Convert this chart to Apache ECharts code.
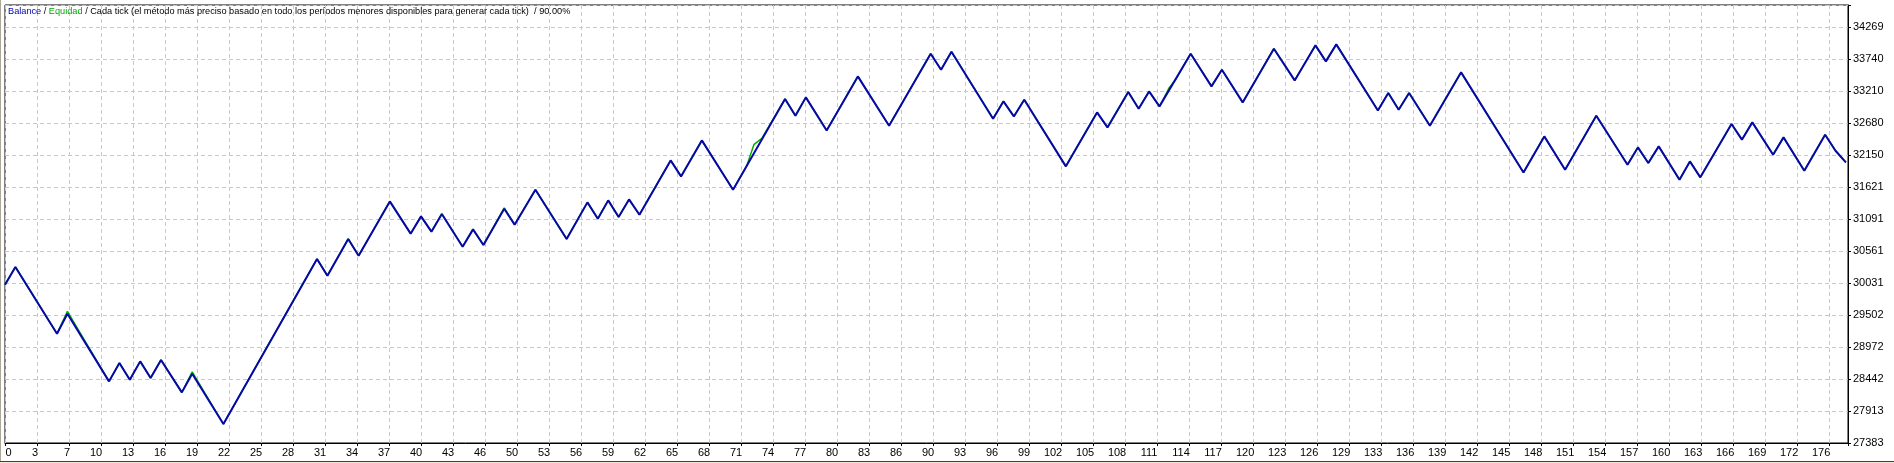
<!DOCTYPE html>
<html>
<head>
<meta charset="utf-8">
<script src="https://cdn.jsdelivr.net/npm/echarts/dist/echarts.min.js"></script>
<style>
html,body{margin:0;padding:0;background:#ffffff;}
#c{width:1894px;height:463px;}
</style>
</head>
<body>
<div id="c"></div>
<script>
// ---- data (turning points of the balance curve) ----
const tradeIdx = [0,1,5,6,10,11,12,13,14,15,17,18,21,30,31,33,34,37,39,40,41,42,44,45,46,48,49,51,54,56,57,58,59,60,61,64,65,67,70,75,76,77,79,82,85,89,90,91,95,96,97,98,102,105,106,108,109,110,111,114,116,117,119,122,124,126,127,128,132,133,134,135,137,140,146,148,150,153,156,157,158,159,161,162,163,166,167,168,170,171,173,175,176,177];
const balance = [30003,30296,29192,29523,28403,28707,28431,28734,28459,28757,28221,28530,27697,30429,30152,30760,30483,31382,30848,31134,30881,31174,30632,30919,30661,31261,30997,31576,30760,31366,31096,31399,31124,31415,31162,32061,31796,32392,31576,33077,32801,33104,32557,33451,32635,33827,33562,33860,32751,33038,32789,33066,31962,32855,32607,33193,32917,33203,32955,33827,33286,33562,33021,33910,33385,33965,33700,33981,32888,33177,32900,33177,32635,33518,31862,32458,31907,32801,31990,32276,32018,32293,31741,32044,31780,32663,32404,32690,32155,32442,31890,32486,32221,32028];
// equity points where it departs from the balance
const equityIdx = [6,18,48,71.3,72,72.8,111.3,111.9,112.5];
const equityVal = [29561,28560,31275,31962,32321,32432,33051,33255,33382];
// axis tick labels
const xTickLabels = [0,3,7,10,13,16,19,22,25,28,31,34,37,40,43,46,50,53,56,59,62,65,68,71,74,77,80,83,86,90,93,96,99,102,105,108,111,114,117,120,123,126,129,133,136,139,142,145,148,151,154,157,160,163,166,169,172,176];
const yTickLabels = [27383,27913,28442,28972,29502,30031,30561,31091,31621,32150,32680,33210,33740,34269];
const headerText = 'Cada tick (el método más preciso basado en todo los períodos menores disponibles para generar cada tick)  / 90.00%';

// ---- axis setup ----
const xMax = 177.2;
const xStep = 3.0769;
const yMin = 27383, yMax = 34633;
const yStep = (yTickLabels[yTickLabels.length-1] - yTickLabels[0]) / (yTickLabels.length - 1);

const balancePts = tradeIdx.map((t,i)=>[t, balance[i]]);
const equityPts = balancePts.map(p=>[p[0],p[1]]);
equityIdx.forEach((t,i)=>{
  const j = equityPts.findIndex(p=>p[0]===t);
  if (j>=0) equityPts[j] = [t, equityVal[i]]; else equityPts.push([t, equityVal[i]]);
});
equityPts.sort((a,b)=>a[0]-b[0]);

const FONT = 'Liberation Sans';
const TFS = 9.2;
const chart = echarts.init(document.getElementById('c'), null, {renderer:'canvas'});
chart.setOption({
  animation:false,
  backgroundColor:'#ffffff',
  title:{
    text:'{b|Balance} / {e|Equidad} / ' + headerText,
    left:8, top:7, padding:0,
    textStyle:{fontFamily:FONT,fontSize:TFS,fontWeight:'normal',color:'#000000',
      rich:{
        b:{color:'#0000b0',fontFamily:FONT,fontSize:TFS},
        e:{color:'#00a800',fontFamily:FONT,fontSize:TFS}
      }}
  },
  grid:{left:5,right:46,top:5,bottom:20,show:true,borderColor:'#000000',borderWidth:1,backgroundColor:'#ffffff'},
  xAxis:{
    type:'value', min:0, max:xMax, interval:xStep,
    axisLine:{show:true,lineStyle:{color:'#000000',width:1}},
    axisTick:{show:true,length:3,lineStyle:{color:'#000000'}},
    splitLine:{show:true,lineStyle:{color:'#c8c8c8',type:[4,3],width:1}},
    axisLabel:{
      margin:4, color:'#000000', fontFamily:FONT, fontSize:11, align:'center',
      showMinLabel:true, showMaxLabel:true,
      formatter:function(v){
        const k = Math.round(v/xStep);
        if (Math.abs(v - k*xStep) > 0.01 || xTickLabels[k]==null) return '';
        const s = String(xTickLabels[k]);
        if (k===0) return '{z|'+s+'}';
        return '{d'+s.length+'|'+s+'}';
      },
      rich:{
        z:{padding:[0,0,0,7],fontFamily:FONT,fontSize:11,color:'#000'},
        d1:{padding:[0,4,0,0],fontFamily:FONT,fontSize:11,color:'#000'},
        d2:{padding:[0,10,0,0],fontFamily:FONT,fontSize:11,color:'#000'},
        d3:{padding:[0,16,0,0],fontFamily:FONT,fontSize:11,color:'#000'}
      }
    }
  },
  yAxis:[
    {type:'value', min:yMin, max:yMax, show:false, splitLine:{show:false}},
    {
      type:'value', position:'right', min:0, max:yMax-yMin, interval:yStep,
      axisLine:{show:true,lineStyle:{color:'#000000',width:1}},
      axisTick:{show:true,length:3,lineStyle:{color:'#000000'}},
      splitLine:{show:true,lineStyle:{color:'#c8c8c8',type:[4,3],width:1}},
      axisLabel:{
        margin:5, color:'#000000', fontFamily:FONT, fontSize:11, align:'left',
        showMinLabel:true, showMaxLabel:true,
        formatter:function(v){
          const k = Math.round(v/yStep);
          if (Math.abs(v - k*yStep) > 0.5 || yTickLabels[k]==null) return '';
          return String(yTickLabels[k]);
        }
      }
    }
  ],
  series:[
    {name:'Equidad', type:'line', yAxisIndex:0, data:equityPts, showSymbol:false, symbol:'none',
     lineStyle:{color:'#00b000',width:1.5}, z:2, silent:true},
    {name:'Balance', type:'line', yAxisIndex:0, data:balancePts, showSymbol:false, symbol:'none',
     lineStyle:{color:'#0808a8',width:2}, z:3, silent:true}
  ],
  graphic:[
    {type:'rect', left:0, top:0, shape:{width:1,height:463}, style:{fill:'#aca899'}, silent:true},
    {type:'rect', left:0, top:461, shape:{width:1894,height:1}, style:{fill:'#404040'}, silent:true},
    {type:'rect', left:0, top:462, shape:{width:1894,height:1}, style:{fill:'#ece9d8'}, silent:true}
  ]
});
</script>
</body>
</html>
